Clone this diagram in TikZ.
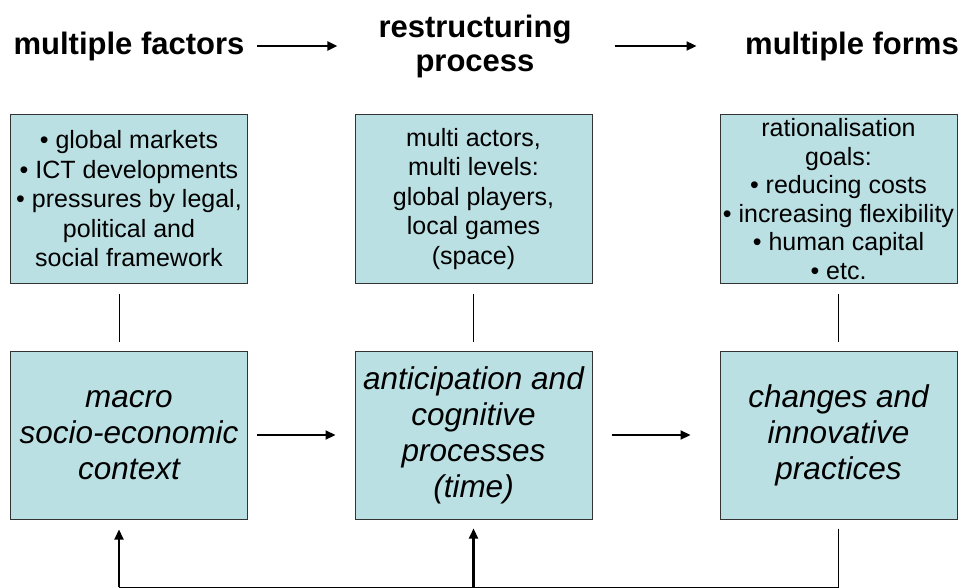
\documentclass[tikz,border=0pt]{standalone}
\usepackage{fontspec}
\setmainfont{Liberation Sans}
\usepackage{tikz}
\usetikzlibrary{positioning}
\usetikzlibrary{arrows.meta,calc}
\definecolor{boxblue}{RGB}{187,224,227}
\tikzstyle{infobox}=[rectangle,fill=boxblue,draw=black!80,line width=1pt,minimum width=237pt,minimum height=168pt,inner sep=0pt,align=center,font=\fontsize{25}{29.5}\selectfont]
\tikzstyle{mainbox}=[infobox,font=\fontsize{31.5}{36}\selectfont\itshape]
\tikzstyle{heading}=[inner sep=0pt,align=center,font=\fontsize{31}{34}\selectfont\bfseries]
\tikzstyle{edge} = [draw,line width=2.2pt,-{Triangle[length=10pt,width=9pt]}]
\tikzstyle{undirectededge} = [draw,line width=1pt]

\begin{document}
\begin{tikzpicture}[x=1pt,y=-1pt]
  \useasboundingbox (0,0) rectangle (961,588);

  \def\ytop{199}
  \def\ybot{435}

  \foreach \x/\name/\label in {129/factors/{multiple factors}, 475/process/{restructuring\\process}, 852/forms/{multiple forms}}
          \node[heading] (\name) at (\x, 46) {\label};

  \foreach \x/\name/\label in {129/drivers/{\textbullet\ global markets\\\textbullet\ ICT developments\\\textbullet\ pressures by legal,\\political and\\social framework},
                               473.5/actors/{multi actors,\\multi levels:\\global players,\\local games\\(space)}}
          \node[infobox] (\name) at (\x, \ytop) {\label};
  \node[infobox, font=\fontsize{25}{28.5}\selectfont] (goals) at (838.5, \ytop)
          {rationalisation\\goals:\\\textbullet\ reducing costs\\\textbullet\ increasing flexibility\\\textbullet\ human capital\\\textbullet\ etc.};

  \foreach \x/\name/\label in {129/context/{macro\\socio-economic\\context}, 473.5/cognition/{anticipation and\\cognitive\\processes\\(time)}, 838.5/practices/{changes and\\innovative\\practices}}
          \node[mainbox] (\name) at (\x, \ybot) {\label};

  \coordinate (base) at (119, 587);

  % headings
  \path[edge, shorten <=12.5pt, shorten >=41pt] (factors) -- (factors -| process.west);
  \path[edge, shorten <=43pt, shorten >=48.5pt] (factors -| process.east) -- (forms);

  % top boxes down to the main row
  \path[undirectededge, shorten <=10pt, shorten >=9pt] ([xshift=-10pt]drivers.south) -- ([xshift=-10pt]context.north);
  \foreach \source/ \dest in {actors/cognition, goals/practices}
         \path[undirectededge, shorten <=10pt, shorten >=9pt] (\source) -- (\dest);

  \foreach \source/ \dest /\sa/\sb in {context/cognition/9/19, cognition/practices/19/29}
         \path[edge, shorten <=\sa pt, shorten >=\sb pt] (\source) -- (\dest);

  % feedback loop
  \path[undirectededge] ([yshift=-9pt]practices.south) -- (practices.south |- base) -- (base);
  \path[edge] (base) -- ([xshift=-10pt, yshift=-10pt]context.south);
  \path[edge] (cognition.south |- base) -- ([yshift=-9pt]cognition.south);

\end{tikzpicture}
\end{document}
